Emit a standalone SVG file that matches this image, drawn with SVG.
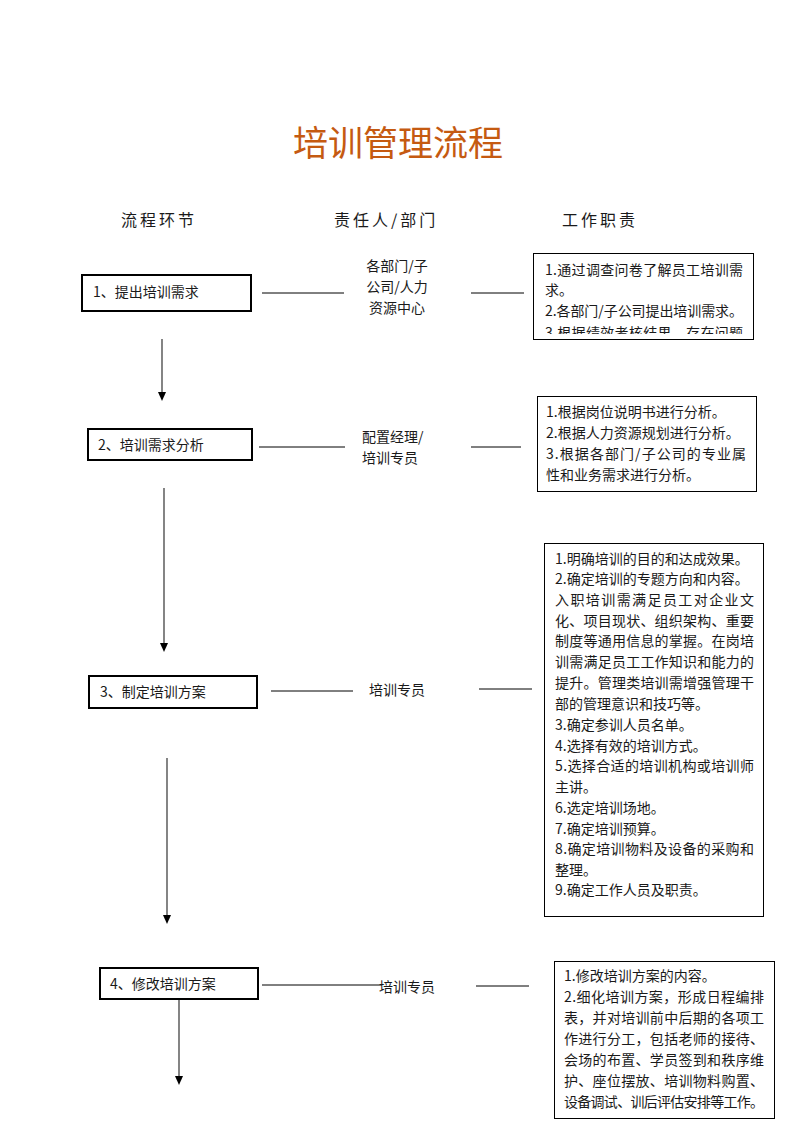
<svg xmlns="http://www.w3.org/2000/svg" width="793" height="1122" viewBox="0 0 793 1122">
<style>
text{font-family:"Noto Sans CJK SC","Liberation Sans",sans-serif;fill:#1a1a1a;font-size:14px}
.title{font-size:35px;fill:#C55A11;text-anchor:middle}
.hdr{font-size:16px;letter-spacing:3px}
.step{fill:#fff;stroke:#000;stroke-width:2}
.duty{fill:#fff;stroke:#000;stroke-width:1}
.ln{stroke:#000;stroke-width:1;fill:none}
.vl{stroke:#333;stroke-width:1.2;fill:none}
.c{text-anchor:middle}
</style>
<defs>
<clipPath id="clip1"><rect x="534" y="254" width="218" height="80"/></clipPath>
</defs>
<text class="title" x="398" y="156">培训管理流程</text>
<g id="headers">
<text class="hdr" x="121" y="226">流程环节</text>
<text class="hdr" x="334" y="226">责任人/部门</text>
<text class="hdr" x="562" y="226">工作职责</text>
</g>
<g id="connectors">
<line class="ln" x1="262" y1="293" x2="344" y2="293"/>
<line class="ln" x1="471" y1="293" x2="524" y2="293"/>
<line class="ln" x1="259" y1="447" x2="345" y2="447"/>
<line class="ln" x1="471" y1="447" x2="521" y2="447"/>
<line class="ln" x1="271" y1="691" x2="353" y2="691"/>
<line class="ln" x1="479" y1="689" x2="532" y2="689"/>
<line class="ln" x1="262" y1="985" x2="382" y2="985"/>
<line class="ln" x1="476" y1="986" x2="529" y2="986"/>
<path class="vl" d="M162,339 L162,394"/>
<path d="M158,392 L166,392 L162,401 Z" fill="#000"/>
<path class="vl" d="M164,488 L164,645"/>
<path d="M160,643 L168,643 L164,652 Z" fill="#000"/>
<path class="vl" d="M167,758 L167,917"/>
<path d="M163,915 L171,915 L167,924 Z" fill="#000"/>
<path class="vl" d="M179,999 L179,1078"/>
<path d="M175,1076 L183,1076 L179,1085 Z" fill="#000"/>
</g>
<g id="step1">
<rect class="step" x="82" y="275" width="169" height="36"/>
<text x="93" y="297">1、提出培训需求</text>
</g>
<g id="resp1">
<text class="c" x="397" y="271">各部门/子</text>
<text class="c" x="397" y="292">公司/人力</text>
<text class="c" x="397" y="313">资源中心</text>
</g>
<g id="duty1">
<rect class="duty" x="533.5" y="253.5" width="220" height="86"/>
<g clip-path="url(#clip1)">
<text x="545" y="275" textLength="198" lengthAdjust="spacing">1.通过调查问卷了解员工培训需</text>
<text x="545" y="295">求。</text>
<text x="545" y="316" textLength="198" lengthAdjust="spacing">2.各部门/子公司提出培训需求。</text>
<text x="545" y="338" textLength="198" lengthAdjust="spacing">3.根据绩效考核结果，存在问题</text>
</g>
</g>
<g id="step2">
<rect class="step" x="88" y="429" width="164" height="31"/>
<text x="98" y="450">2、培训需求分析</text>
</g>
<g id="resp2">
<text x="362" y="442">配置经理/</text>
<text x="362" y="463">培训专员</text>
</g>
<g id="duty2">
<rect class="duty" x="537.5" y="396.5" width="219" height="95"/>
<text x="546" y="417">1.根据岗位说明书进行分析。</text>
<text x="546" y="438">2.根据人力资源规划进行分析。</text>
<text x="546" y="459" textLength="200" lengthAdjust="spacing">3.根据各部门/子公司的专业属</text>
<text x="546" y="480">性和业务需求进行分析。</text>
</g>
<g id="step3">
<rect class="step" x="89" y="676" width="168" height="32"/>
<text x="100" y="697">3、制定培训方案</text>
</g>
<g id="resp3">
<text x="369" y="695">培训专员</text>
</g>
<g id="duty3">
<rect class="duty" x="544.5" y="543.5" width="219" height="373"/>
<text x="555" y="564">1.明确培训的目的和达成效果。</text>
<text x="555" y="584">2.确定培训的专题方向和内容。</text>
<text x="555" y="605" textLength="199" lengthAdjust="spacing">入职培训需满足员工对企业文</text>
<text x="555" y="626" textLength="199" lengthAdjust="spacing">化、项目现状、组织架构、重要</text>
<text x="555" y="646" textLength="199" lengthAdjust="spacing">制度等通用信息的掌握。在岗培</text>
<text x="555" y="667" textLength="199" lengthAdjust="spacing">训需满足员工工作知识和能力的</text>
<text x="555" y="688" textLength="199" lengthAdjust="spacing">提升。管理类培训需增强管理干</text>
<text x="555" y="709">部的管理意识和技巧等。</text>
<text x="555" y="730">3.确定参训人员名单。</text>
<text x="555" y="751">4.选择有效的培训方式。</text>
<text x="555" y="771" textLength="199" lengthAdjust="spacing">5.选择合适的培训机构或培训师</text>
<text x="555" y="792">主讲。</text>
<text x="555" y="813">6.选定培训场地。</text>
<text x="555" y="834">7.确定培训预算。</text>
<text x="555" y="854" textLength="199" lengthAdjust="spacing">8.确定培训物料及设备的采购和</text>
<text x="555" y="875">整理。</text>
<text x="555" y="895">9.确定工作人员及职责。</text>
</g>
<g id="step4">
<rect class="step" x="100" y="968" width="158" height="31"/>
<text x="110" y="989">4、修改培训方案</text>
</g>
<g id="resp4">
<text x="379" y="992">培训专员</text>
</g>
<g id="duty4">
<rect class="duty" x="554.5" y="961.5" width="220" height="157"/>
<text x="564" y="981">1.修改培训方案的内容。</text>
<text x="564" y="1002" textLength="200" lengthAdjust="spacing">2.细化培训方案，形成日程编排</text>
<text x="564" y="1023" textLength="200" lengthAdjust="spacing">表，并对培训前中后期的各项工</text>
<text x="564" y="1044" textLength="200" lengthAdjust="spacing">作进行分工，包括老师的接待、</text>
<text x="564" y="1065" textLength="200" lengthAdjust="spacing">会场的布置、学员签到和秩序维</text>
<text x="564" y="1086" textLength="200" lengthAdjust="spacing">护、座位摆放、培训物料购置、</text>
<text x="564" y="1107" textLength="200" lengthAdjust="spacing">设备调试、训后评估安排等工作。</text>
</g>
</svg>
